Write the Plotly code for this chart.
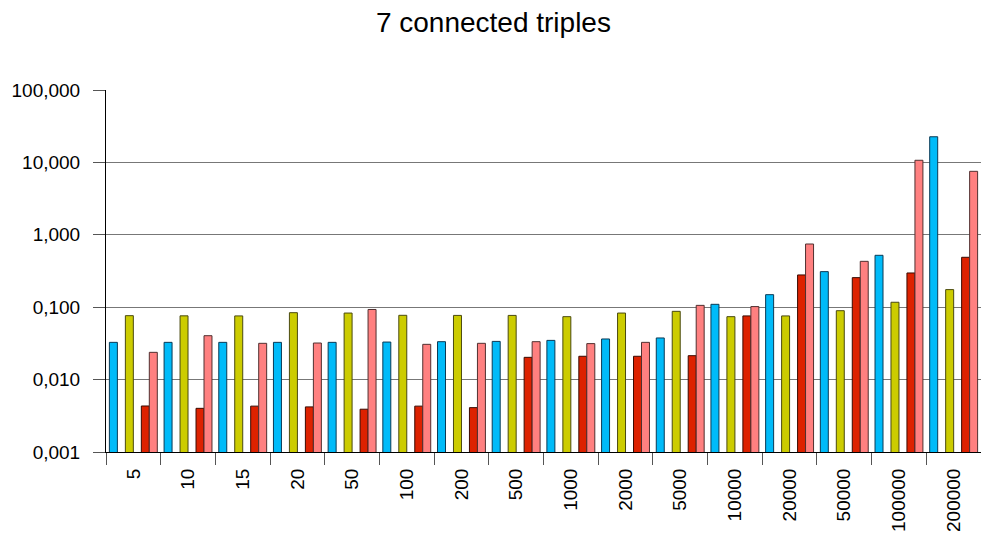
import plotly.graph_objects as go

categories = ["5", "10", "15", "20", "50", "100", "200", "500", "1000", "2000",
              "5000", "10000", "20000", "50000", "100000", "200000"]

series_blue = [0.0327, 0.0327, 0.0327, 0.0327, 0.0327, 0.033, 0.0334, 0.0337, 0.0348, 0.0364,
               0.0376, 0.1096, 0.149, 0.31, 0.521, 22.6]
series_yellow = [0.0764, 0.076, 0.0758, 0.084, 0.083, 0.0773, 0.077, 0.077, 0.074, 0.083,
                 0.0877, 0.074, 0.0758, 0.0895, 0.117, 0.175]
series_red = [0.00432, 0.00401, 0.0043, 0.0042, 0.0039, 0.0043, 0.0041, 0.0203, 0.021, 0.021,
              0.0214, 0.0758, 0.279, 0.256, 0.297, 0.489]
series_pink = [0.0238, 0.0404, 0.0317, 0.032, 0.093, 0.0307, 0.0317, 0.0334, 0.0314, 0.0327,
               0.106, 0.102, 0.746, 0.43, 10.7, 7.53]

ytick_vals = [0.001, 0.01, 0.1, 1, 10, 100]
ytick_text = ["0,001", "0,010", "0,100", "1,000", "10,000", "100,000"]

slot = 0.146
specs = [
    (series_blue, "#00BBF9", "#0A3A55", -3),
    (series_yellow, "#CCCC00", "#4A4A10", -1),
    (series_red, "#DD2200", "#3A0A00", 1),
    (series_pink, "#FF8080", "#503030", 2),
]

fig = go.Figure()
for vals, color, line, off in specs:
    fig.add_trace(go.Bar(
        x=categories, y=vals,
        width=slot, offset=off * slot,
        marker=dict(color=color, line=dict(color=line, width=1)),
        showlegend=False,
    ))

fig.update_layout(
    width=981, height=542,
    margin=dict(l=106, r=0, t=90, b=90, autoexpand=False),
    paper_bgcolor="white", plot_bgcolor="white",
    font=dict(family="Liberation Sans, Arial, sans-serif", size=19, color="black"),
    title=dict(text="7 connected triples", x=0.503, xanchor="center",
               yref="container", y=1 - 22 / 542, yanchor="middle",
               font=dict(size=28, color="black"), automargin=False),
    barmode="overlay",
)
fig.update_yaxes(
    type="log", range=[-3, 2],
    tickvals=ytick_vals, ticktext=ytick_text,
    showgrid=True, gridcolor="#777777", gridwidth=1.3,
    showline=True, linecolor="black", linewidth=1,
    ticks="outside", ticklen=12, tickcolor="#555555",
    ticklabelstandoff=9,
    zeroline=False, automargin=False,
)
fig.update_xaxes(
    type="category", tickangle=-90,
    showline=True, linecolor="black", linewidth=1,
    ticks="outside", ticklen=12, tickcolor="#555555", tickson="boundaries",
    ticklabelstandoff=8,
    showgrid=False, automargin=False,
)

fig.write_html("out.html",
               config={"displayModeBar": False},
               post_script="document.body.style.margin='0';document.body.style.overflow='hidden';")
